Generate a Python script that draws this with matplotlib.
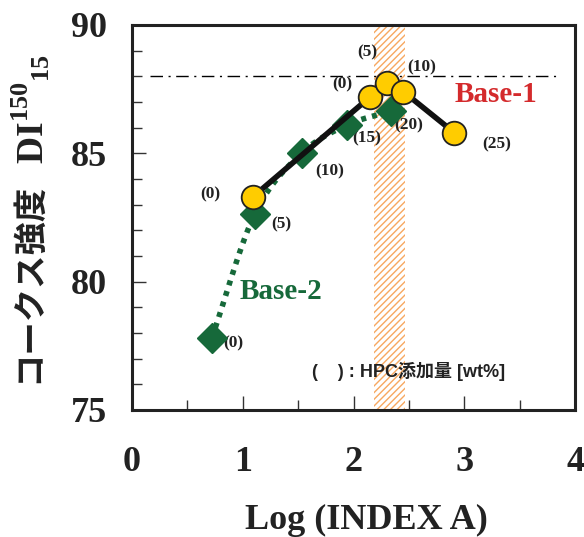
import matplotlib.pyplot as plt
import numpy as np

plt.rcParams['mathtext.fontset'] = 'custom'
plt.rcParams['mathtext.bf'] = 'Liberation Serif:bold'
plt.rcParams['mathtext.rm'] = 'Liberation Serif:bold'

# Base-1 (circles, solid black line)
b1_x = [1.09, 2.15, 2.30, 2.45, 2.91]
b1_y = [83.3, 87.2, 87.75, 87.4, 85.8]
b1_lab = ['(0)', '(0)', '(5)', '(10)', '(25)']

# Base-2 (diamonds, dotted green line)
b2_x = [0.72, 1.11, 1.53, 1.94, 2.34]
b2_y = [77.8, 82.65, 85.0, 86.1, 86.65]
b2_lab = ['(0)', '(5)', '(10)', '(15)', '(20)']

ref_y = 88.0
band = [2.18, 2.46]

green = '#16693a'
serif = 'Liberation Serif'

fig = plt.figure(figsize=(5.84, 5.37), dpi=100)
ax = fig.add_axes([0.226, 0.2365, 0.759, 0.717])

# hatched band
ax.axvspan(band[0], band[1], facecolor='white', edgecolor='#f7a860',
           hatch='/////', linewidth=0, zorder=1)

# reference line
ax.plot([0.16, 3.86], [ref_y, ref_y], color='black', lw=1,
        ls=(0, (9, 4, 1.5, 4)), zorder=2)

# smooth curve for Base-2 (catmull-rom)
def smooth(xs, ys, n=30):
    p = np.column_stack([xs, ys])
    p = np.vstack([p[0] - (p[1] - p[0]), p, p[-1] + (p[-1] - p[-2])])
    out = []
    t = np.linspace(0, 1, n)[:, None]
    for i in range(1, len(p) - 2):
        p0, p1, p2, p3 = p[i - 1], p[i], p[i + 1], p[i + 2]
        seg = 0.5 * ((2 * p1) + (-p0 + p2) * t + (2 * p0 - 5 * p1 + 4 * p2 - p3) * t ** 2
                     + (-p0 + 3 * p1 - 3 * p2 + p3) * t ** 3)
        out.append(seg)
    out = np.vstack(out)
    return out[:, 0], out[:, 1]

sx, sy = smooth(b2_x, b2_y)
ax.plot(sx, sy, color=green, lw=4, ls=(0, (0.9, 1.1)), zorder=3)
ax.plot(b2_x, b2_y, ls='none', marker='D', ms=15, color=green, mec=green, zorder=4)

ax.plot(b1_x, b1_y, color='#111111', lw=4, zorder=5)
ax.plot(b1_x, b1_y, ls='none', marker='o', ms=17, mfc='#ffcc00', mec='#222222',
        mew=1.3, zorder=6)

lab_kw = dict(fontfamily=serif, fontweight='bold', fontsize=12.5, ha='center',
              va='center', color='#222222')
b1_off = [(-0.38, 0.1), (-0.25, 0.47), (-0.18, 1.17), (0.16, 0.94), (0.38, -0.45)]
for x, y, s, (dx, dy) in zip(b1_x, b1_y, b1_lab, b1_off):
    ax.text(x + dx, y + dy, s, **lab_kw)
b2_off = [(0.19, -0.2), (0.24, -0.4), (0.25, -0.7), (0.18, -0.5), (0.16, -0.55)]
for x, y, s, (dx, dy) in zip(b2_x, b2_y, b2_lab, b2_off):
    ax.text(x + dx, y + dy, s, **lab_kw)

ax.text(3.28, 87.3, 'Base-1', fontfamily=serif, fontweight='bold', fontsize=21,
        color='#d42a2c', ha='center', va='center')
ax.text(1.34, 79.6, 'Base-2', fontfamily=serif, fontweight='bold', fontsize=21,
        color=green, ha='center', va='center')
ax.text(2.5, 76.5, '(    ) : HPC添加量 [wt%]',
        fontfamily=['Liberation Sans', 'Noto Sans CJK JP'], fontweight='bold',
        fontsize=13, ha='center', va='center', color='#222222')

ax.set_xlim(0, 4)
ax.set_ylim(75, 90)
ax.set_xticks([0, 1, 2, 3, 4])
ax.set_xticks([0.5, 1.5, 2.5, 3.5], minor=True)
ax.set_yticks([75, 80, 85, 90])
ax.set_yticks(np.arange(75, 90, 1), minor=True)
ax.tick_params(which='both', direction='in', width=1, color='#333333')
ax.tick_params(which='major', length=10)
ax.tick_params(which='minor', length=7)
ax.tick_params(axis='y', pad=18)
ax.tick_params(axis='x', pad=26)
for lab in ax.get_xticklabels() + ax.get_yticklabels():
    lab.set_fontfamily(serif)
    lab.set_fontweight('bold')
    lab.set_fontsize(26)
    lab.set_color('#222222')
for sp in ax.spines.values():
    sp.set_linewidth(2.2)
    sp.set_color('#222222')

ax.set_xlabel('Log (INDEX A)', fontfamily=serif, fontweight='bold', fontsize=26,
              color='#222222')
ax.xaxis.set_label_coords(0.528, -0.245)

# y label in two parts (Japanese + DI)
fig.text(0.048, 0.473, 'コークス強度', rotation=90, ha='center', va='center',
         fontfamily=['Noto Sans CJK JP', 'DejaVu Sans'], fontweight='bold',
         fontsize=24, color='#222222')
fig.text(0.052, 0.797, r'$\mathbf{DI}^{\mathbf{150}}{}_{\mathbf{15}}$',
         rotation=90, ha='center', va='center', fontsize=27, color='#222222')

fig.savefig('out.png', dpi=100)
